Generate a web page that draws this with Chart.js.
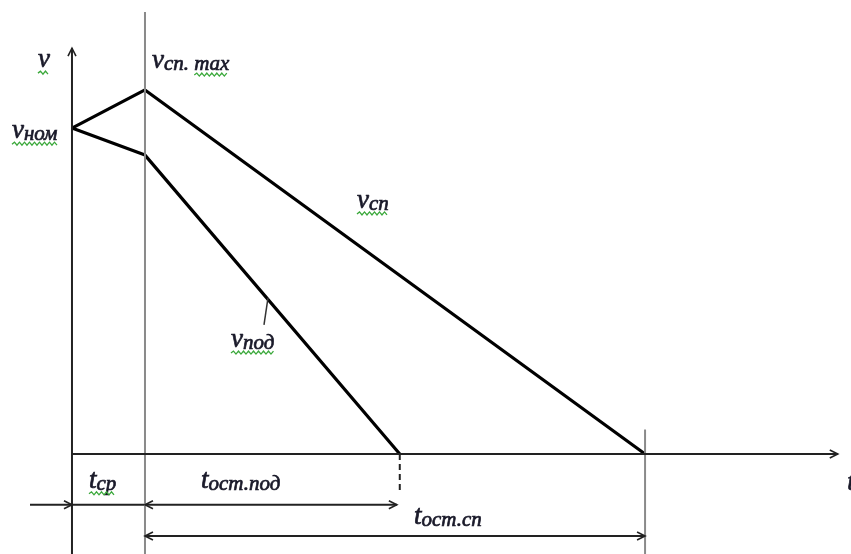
<!DOCTYPE html>
<html>
<head>
<meta charset="utf-8">
<script src="https://cdn.jsdelivr.net/npm/chart.js@4/dist/chart.umd.min.js"></script>
<style>
  body { margin: 0; background: #fff; }
  canvas { display: block; }
</style>
</head>
<body>
<canvas id="diagram" width="851" height="554"></canvas>
<script>
// time marks (t = 0 is the moment of braking start)
const tSr = 1.0;        // t_ср
const tOstPod = 4.49;   // end of v_под
const tOstSp = 7.85;    // end of v_сп

// speed curves
const vSpT = [0, 1.0, 7.85];
const vSpV = [1.0, 1.117, 0];
const vPodT = [0, 1.0, 4.49];
const vPodV = [1.0, 0.917, 0];

function pts(ts, vs) {
  return ts.map(function (t, i) { return { x: t, y: vs[i] }; });
}

function seg(x1, y1, x2, y2, color, width, dash) {
  return {
    data: [{ x: x1, y: y1 }, { x: x2, y: y2 }],
    borderColor: color,
    borderWidth: width,
    borderDash: dash || [],
    showLine: true,
    pointRadius: 0,
    clip: false
  };
}

const ink = '#1a1a2a';
const mainFont = 'italic 27px "Liberation Serif", serif';
const subFont = 'italic 21px "Liberation Serif", serif';

// arrowheads and text, drawn through the scales
const labelsPlugin = {
  id: 'labels',
  afterDatasetsDraw: function (chart) {
    const ctx = chart.ctx;
    const X = chart.scales.x, Y = chart.scales.y;
    const px = function (t) { return X.getPixelForValue(t); };
    const py = function (v) { return Y.getPixelForValue(v); };

    function arrow(t, v, dir) {
      const x = px(t), y = py(v);
      ctx.save();
      ctx.strokeStyle = '#222';
      ctx.lineWidth = 1.6;
      ctx.beginPath();
      if (dir === 'right') { ctx.moveTo(x - 8, y - 4); ctx.lineTo(x, y); ctx.lineTo(x - 8, y + 4); }
      if (dir === 'left') { ctx.moveTo(x + 8, y - 4); ctx.lineTo(x, y); ctx.lineTo(x + 8, y + 4); }
      if (dir === 'up') { ctx.moveTo(x - 4, y + 8); ctx.lineTo(x, y); ctx.lineTo(x + 4, y + 8); }
      ctx.stroke();
      ctx.restore();
    }

    arrow(0, 1.245, 'up');
    arrow(10.49, 0, 'right');
    arrow(0, -0.156, 'right');
    arrow(tSr, -0.156, 'left');
    arrow(tOstPod - 0.04, -0.156, 'right');
    arrow(tSr, -0.252, 'left');
    arrow(tOstSp, -0.252, 'right');

    function wavy(x1, x2, y) {
      ctx.save();
      ctx.strokeStyle = '#3aa83a';
      ctx.lineWidth = 1.3;
      ctx.beginPath();
      ctx.moveTo(x1, y);
      let up = true;
      for (let x = x1 + 2.5; x <= x2; x += 2.5) {
        ctx.lineTo(x, up ? y - 2 : y + 1);
        up = !up;
      }
      ctx.stroke();
      ctx.restore();
    }

    function text(str, x, y) {
      ctx.fillText(str, x, y);
      ctx.strokeText(str, x, y);
    }

    function label(main, sub, t, v, under) {
      const x = px(t), y = py(v);
      ctx.save();
      ctx.fillStyle = ink;
      ctx.strokeStyle = ink;
      ctx.lineWidth = 0.7;
      ctx.textBaseline = 'alphabetic';
      ctx.font = mainFont;
      text(main, x, y);
      const w = ctx.measureText(main).width;
      let total = w;
      if (sub) {
        ctx.font = subFont;
        text(sub, x + w, y + 2);
        total += ctx.measureText(sub).width;
      }
      let mw = 0;
      if (under === 'max') mw = ctx.measureText('max').width;
      ctx.restore();
      if (under === 'all') wavy(x, x + total, y + 6);
      if (under === 'max') wavy(x + total - mw, x + total, y + 7);
    }

    label('v', '', -0.466, 1.187, 'all');
    label('v', 'ном', -0.822, 0.969, 'all');
    label('v', 'сп. max', 1.096, 1.184, 'max');
    label('v', 'сп', 3.904, 0.755, 'all');
    label('v', 'под', 2.178, 0.328, 'all');
    label('t', 'ср', 0.233, -0.104, 'all');
    label('t', 'ост.под', 1.767, -0.104, '');
    label('t', 'ост.сп', 4.685, -0.215, '');
    label('t', '', 10.62, -0.11, '');
  }
};

new Chart(document.getElementById('diagram'), {
  type: 'scatter',
  data: {
    datasets: [
      seg(0, -0.31, 0, 1.245, '#222', 2),            // v axis
      seg(0, 0, 10.49, 0, '#222', 2),                // t axis
      seg(tSr, -0.31, tSr, 1.356, '#8a8a8a', 2),      // line at t_ср
      seg(tOstSp, -0.31, tOstSp, 0.075, '#8a8a8a', 2),
      seg(tOstPod, 0, tOstPod, -0.116, '#222', 2, [6, 4]),
      seg(-0.575, -0.156, tOstPod - 0.04, -0.156, '#222', 2),
      seg(tSr, -0.252, tOstSp, -0.252, '#222', 2),
      seg(2.685, 0.479, 2.63, 0.396, '#333', 1.5),    // leader to v_под
      {
        label: 'v_сп',
        data: pts(vSpT, vSpV),
        borderColor: '#000',
        borderWidth: 3.2,
        showLine: true,
        pointRadius: 0,
        borderJoinStyle: 'round',
        clip: false
      },
      {
        label: 'v_под',
        data: pts(vPodT, vPodV),
        borderColor: '#000',
        borderWidth: 3.2,
        showLine: true,
        pointRadius: 0,
        borderJoinStyle: 'round',
        clip: false
      }
    ]
  },
  options: {
    responsive: false,
    animation: false,
    layout: { padding: 0 },
    plugins: { legend: { display: false }, tooltip: { enabled: false } },
    scales: {
      x: { type: 'linear', display: false, min: -0.986, max: 10.671 },
      y: { type: 'linear', display: false, min: -0.307, max: 1.393 }
    }
  },
  plugins: [labelsPlugin]
});
</script>
</body>
</html>
